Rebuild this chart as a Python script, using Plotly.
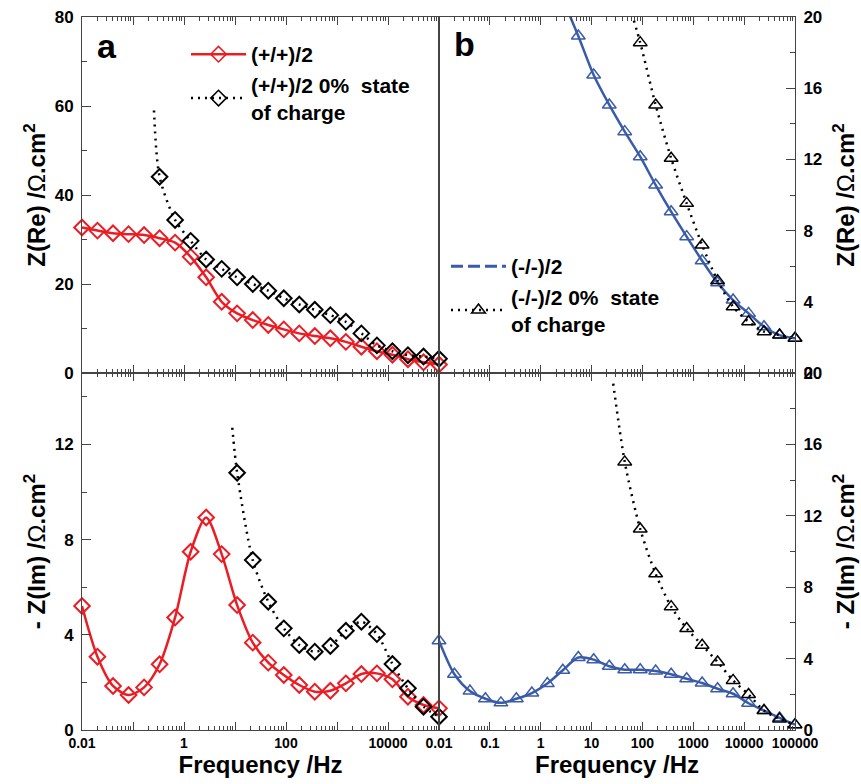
import plotly.graph_objects as go

# ---------------- data ----------------
FREQ = [0.01, 0.0201, 0.0406, 0.0818, 0.165, 0.332, 0.669, 1.35, 2.72, 5.48,
        11.0, 22.3, 44.9, 90.5, 182, 367, 741, 1493, 3006, 6063,
        12220, 24600, 49660, 100000]

# panel a : (+/+)/2
A_RE = [32.7, 32.0, 31.4, 31.2, 31.0, 30.3, 29.3, 26.1, 21.5, 16.0, 13.4, 11.9,
        10.8, 9.8, 8.9, 8.3, 7.8, 7.0, 5.9, 4.9, 4.1, 3.1, 2.4, 1.9]
A_IM = [5.21, 3.08, 1.85, 1.47, 1.79, 2.76, 4.73, 7.49, 8.93, 7.39, 5.25, 3.67,
        2.83, 2.31, 1.89, 1.61, 1.65, 1.96, 2.35, 2.38, 2.13, 1.40, 1.05, 0.91]
# panel a : (+/+)/2 0% state of charge
A0_RE_FREQ = [0.258] + FREQ[5:]
A0_RE = [59.0, 44.1, 34.4, 29.7, 25.5, 23.4, 21.5, 20.0, 18.5, 16.8, 15.4, 14.2,
         13.0, 11.5, 8.9, 6.2, 4.9, 4.0, 3.7, 3.2]
A0_IM_FREQ = [8.85] + FREQ[10:]
A0_IM = [12.7, 10.81, 7.14, 5.39, 4.27, 3.57, 3.29, 3.53, 4.17, 4.55, 4.03,
         2.77, 1.75, 0.98, 0.56]

# panel b : (-/-)/2
B_RE_FREQ = FREQ[8:]
B_RE = [21.0, 18.93, 16.74, 15.06, 13.56, 12.15, 10.56, 9.06, 7.66, 6.31, 5.07,
        4.10, 3.35, 2.6, 2.13, 1.95]
B_IM = [5.0, 3.12, 2.18, 1.75, 1.52, 1.75, 2.07, 2.60, 3.35, 4.06, 3.94, 3.57,
        3.38, 3.38, 3.30, 3.12, 2.87, 2.63, 2.31, 2.03, 1.50, 1.09, 0.68, 0.30]
# panel b : (-/-)/2 0% state of charge
B0_RE_FREQ = [68.0] + FREQ[13:]
B0_RE = [19.8, 18.56, 15.06, 12.06, 9.53, 7.19, 5.19, 3.72, 2.88, 2.32, 2.13, 1.95]
B0_IM_FREQ = [26.7] + FREQ[12:]
B0_IM = [19.4, 15.02, 11.26, 8.75, 6.91, 5.69, 4.75, 3.81, 2.78, 1.99, 1.09, 0.62, 0.30]

DECADES = [0.01, 0.1, 1, 10, 100, 1000, 10000, 100000]
LEFT_TICKS = [0.01, 1, 100, 10000]
LEFT_TICKTEXT = ["0.01", "1", "100", "10000"]
LEFT_UNLABELED = [0.1, 10, 1000, 100000]
RIGHT_TICKTEXT = ["0.01", "0.1", "1", "10", "100", "1000", "10000", "100000"]

# ---------------- style ----------------
RED = "#ec1c24"
BLUE = "#3a5ba8"
BLACK = "#000000"
AX = "#444444"
FONT = "Liberation Sans"
DOT = "2px,5px"

fig = go.Figure()


def curve(x, y, xa, ya, color, width=2.5, dash="solid"):
    fig.add_trace(go.Scatter(x=x, y=y, xaxis=xa, yaxis=ya, mode="lines",
                             line=dict(color=color, width=width, dash=dash, shape="spline", smoothing=0.8),
                             showlegend=False, hoverinfo="skip"))


def marks(x, y, xa, ya, symbol, color, size, lw):
    fig.add_trace(go.Scatter(x=x, y=y, xaxis=xa, yaxis=ya, mode="markers",
                             marker=dict(symbol=symbol, size=size, color=color,
                                         line=dict(color=color, width=lw)),
                             cliponaxis=False, showlegend=False))


# panel a top (Z Re)
curve(FREQ, A_RE, "x3", "y3", RED)
marks(FREQ, A_RE, "x3", "y3", "diamond-open", RED, 12, 2)
curve(A0_RE_FREQ, A0_RE, "x3", "y3", BLACK, 2.5, DOT)
marks(A0_RE_FREQ[1:], A0_RE[1:], "x3", "y3", "diamond-open", BLACK, 12, 2)
# panel a bottom (-Z Im)
curve(FREQ, A_IM, "x", "y", RED)
marks(FREQ, A_IM, "x", "y", "diamond-open", RED, 12, 2)
curve(A0_IM_FREQ, A0_IM, "x", "y", BLACK, 2.5, DOT)
marks(A0_IM_FREQ[1:], A0_IM[1:], "x", "y", "diamond-open", BLACK, 12, 2)
# panel b top (Z Re)
curve(B_RE_FREQ, B_RE, "x4", "y4", BLUE)
marks(B_RE_FREQ[1:], B_RE[1:], "x4", "y4", "triangle-up-open", BLUE, 12, 1.5)
curve(B0_RE_FREQ, B0_RE, "x4", "y4", BLACK, 2.5, DOT)
marks(B0_RE_FREQ[1:], B0_RE[1:], "x4", "y4", "triangle-up-open", BLACK, 12, 1.5)
# panel b bottom (-Z Im)
curve(FREQ, B_IM, "x2", "y2", BLUE)
marks(FREQ, B_IM, "x2", "y2", "triangle-up-open", BLUE, 12, 1.5)
curve(B0_IM_FREQ, B0_IM, "x2", "y2", BLACK, 2.5, DOT)
marks(B0_IM_FREQ[1:], B0_IM[1:], "x2", "y2", "triangle-up-open", BLACK, 12, 1.5)

# helper trace so the unlabeled decade-tick axis is drawn
fig.add_trace(go.Scatter(x=[None], y=[None], xaxis="x5", yaxis="y", mode="markers",
                         showlegend=False, hoverinfo="skip"))

# legend entries
fig.add_trace(go.Scatter(x=[None], y=[None], xaxis="x3", yaxis="y3", mode="lines+markers",
                         name="(+/+)/2", legend="legend",
                         line=dict(color=RED, width=2.5),
                         marker=dict(symbol="diamond-open", size=12, color=RED, line=dict(width=1.5, color=RED))))
fig.add_trace(go.Scatter(x=[None], y=[None], xaxis="x3", yaxis="y3", mode="lines+markers",
                         name="(+/+)/2 0%  state<br>of charge", legend="legend",
                         line=dict(color=BLACK, width=2.5, dash=DOT),
                         marker=dict(symbol="diamond-open", size=12, color=BLACK, line=dict(width=1.5, color=BLACK))))
fig.add_trace(go.Scatter(x=[None], y=[None], xaxis="x4", yaxis="y4", mode="lines",
                         name="(-/-)/2", legend="legend2",
                         line=dict(color=BLUE, width=3, dash="12px,5px")))
fig.add_trace(go.Scatter(x=[None], y=[None], xaxis="x4", yaxis="y4", mode="lines+markers",
                         name="(-/-)/2 0%  state<br>of charge", legend="legend2",
                         line=dict(color=BLACK, width=2.5, dash=DOT),
                         marker=dict(symbol="triangle-up-open", size=12, color=BLACK, line=dict(width=1.5, color=BLACK))))

# ---------------- axes ----------------
MINOR_X = [m * d for d in DECADES[:-1] for m in range(2, 10)]
D = (439 - 82) / 713.0


def xaxis(domain, anchor, labels, tickvals, ticktext=None, title=None):
    ax = dict(type="log", range=[-2, 5], domain=domain, anchor=anchor,
              showline=True, linecolor=AX, linewidth=1, mirror="ticks",
              ticks="inside", ticklen=8, tickwidth=1, tickcolor=AX,
              tickvals=tickvals, showgrid=False, zeroline=False,
              minor=dict(tickvals=MINOR_X, ticks="inside", ticklen=4, tickwidth=1, tickcolor=AX, showgrid=False),
              showticklabels=labels, automargin=False, tickangle=0,
              tickfont=dict(family=FONT, size=14, color="black", weight="bold"))
    if ticktext is not None:
        ax["ticktext"] = ticktext
    if title:
        ax["title"] = dict(text=title, font=dict(family=FONT, size=24, color="black", weight="bold"), standoff=5)
    return ax


def yaxis(domain, anchor, side, rng, major, minor, title, standoff):
    return dict(range=rng, domain=domain, anchor=anchor, side=side,
                showline=True, linecolor=AX, linewidth=1, mirror=True,
                ticks="inside", ticklen=9, tickwidth=1, tickcolor=AX,
                tickvals=major, showgrid=False, zeroline=False,
                minor=dict(tickvals=minor, ticks="inside", ticklen=5, tickwidth=1, tickcolor=AX, showgrid=False),
                automargin=False, ticklabelstandoff=4,
                tickfont=dict(family=FONT, size=17, color="black", weight="bold"),
                title=dict(text=title, font=dict(family=FONT, size=24, color="black", weight="normal"),
                           standoff=standoff))


RE_T = "<b>Z(Re) /</b>Ω<b>.cm<sup>2</sup></b>"
IM_T = "<b>- Z(Im) /</b>Ω<b>.cm<sup>2</sup></b>"

x1 = xaxis([0, D], "y", True, LEFT_TICKS, LEFT_TICKTEXT, "Frequency /Hz")
x5 = dict(type="log", range=[-2, 5], overlaying="x", anchor="y", showline=False,
          mirror="ticks", ticks="inside", ticklen=8, tickwidth=1, tickcolor=AX,
          tickvals=LEFT_UNLABELED, showticklabels=False, showgrid=False, zeroline=False)

fig.update_layout(
    width=861, height=784,
    margin=dict(l=82, r=66, t=17, b=54, pad=0),
    paper_bgcolor="white", plot_bgcolor="white",
    font=dict(family=FONT, color="black"),
    xaxis=x1,
    xaxis2=xaxis([D, 1], "y2", True, DECADES, RIGHT_TICKTEXT, "Frequency /Hz"),
    xaxis3=xaxis([0, D], "y3", False, DECADES),
    xaxis4=xaxis([D, 1], "y4", False, DECADES),
    xaxis5=x5,
    yaxis=yaxis([0, D], "x", "left", [0, 15], [0, 4, 8, 12], [2, 6, 10, 14], IM_T, 2),
    yaxis2=yaxis([0, D], "x2", "right", [0, 20], [0, 4, 8, 12, 16, 20], [2, 6, 10, 14, 18], IM_T, 15),
    yaxis3=yaxis([D, 1], "x3", "left", [0, 80], [0, 20, 40, 60, 80], [10, 30, 50, 70], RE_T, 2),
    yaxis4=yaxis([D, 1], "x4", "right", [0, 20], [0, 4, 8, 12, 16, 20], [2, 6, 10, 14, 18], RE_T, 15),
    legend=dict(x=(186 - 82) / 713.0, y=(730 - 34) / 713.0, xanchor="left", yanchor="top",
                bgcolor="rgba(0,0,0,0)", itemwidth=55, tracegroupgap=0,
                font=dict(family=FONT, size=21, color="black", weight="bold")),
    legend2=dict(x=(446 - 82) / 713.0, y=(730 - 246) / 713.0, xanchor="left", yanchor="top",
                 bgcolor="rgba(0,0,0,0)", itemwidth=55, tracegroupgap=0,
                 font=dict(family=FONT, size=21, color="black", weight="bold")),
    annotations=[
        dict(text="a", x=(107 - 82) / 713.0, y=(730 - 46) / 713.0, xref="paper", yref="paper",
             showarrow=False, xanchor="center", yanchor="middle",
             font=dict(family=FONT, size=34, color="black", weight="bold")),
        dict(text="b", x=(465 - 82) / 713.0, y=(730 - 44) / 713.0, xref="paper", yref="paper",
             showarrow=False, xanchor="center", yanchor="middle",
             font=dict(family=FONT, size=34, color="black", weight="bold")),
    ],
)

fig.write_html("out.html")
